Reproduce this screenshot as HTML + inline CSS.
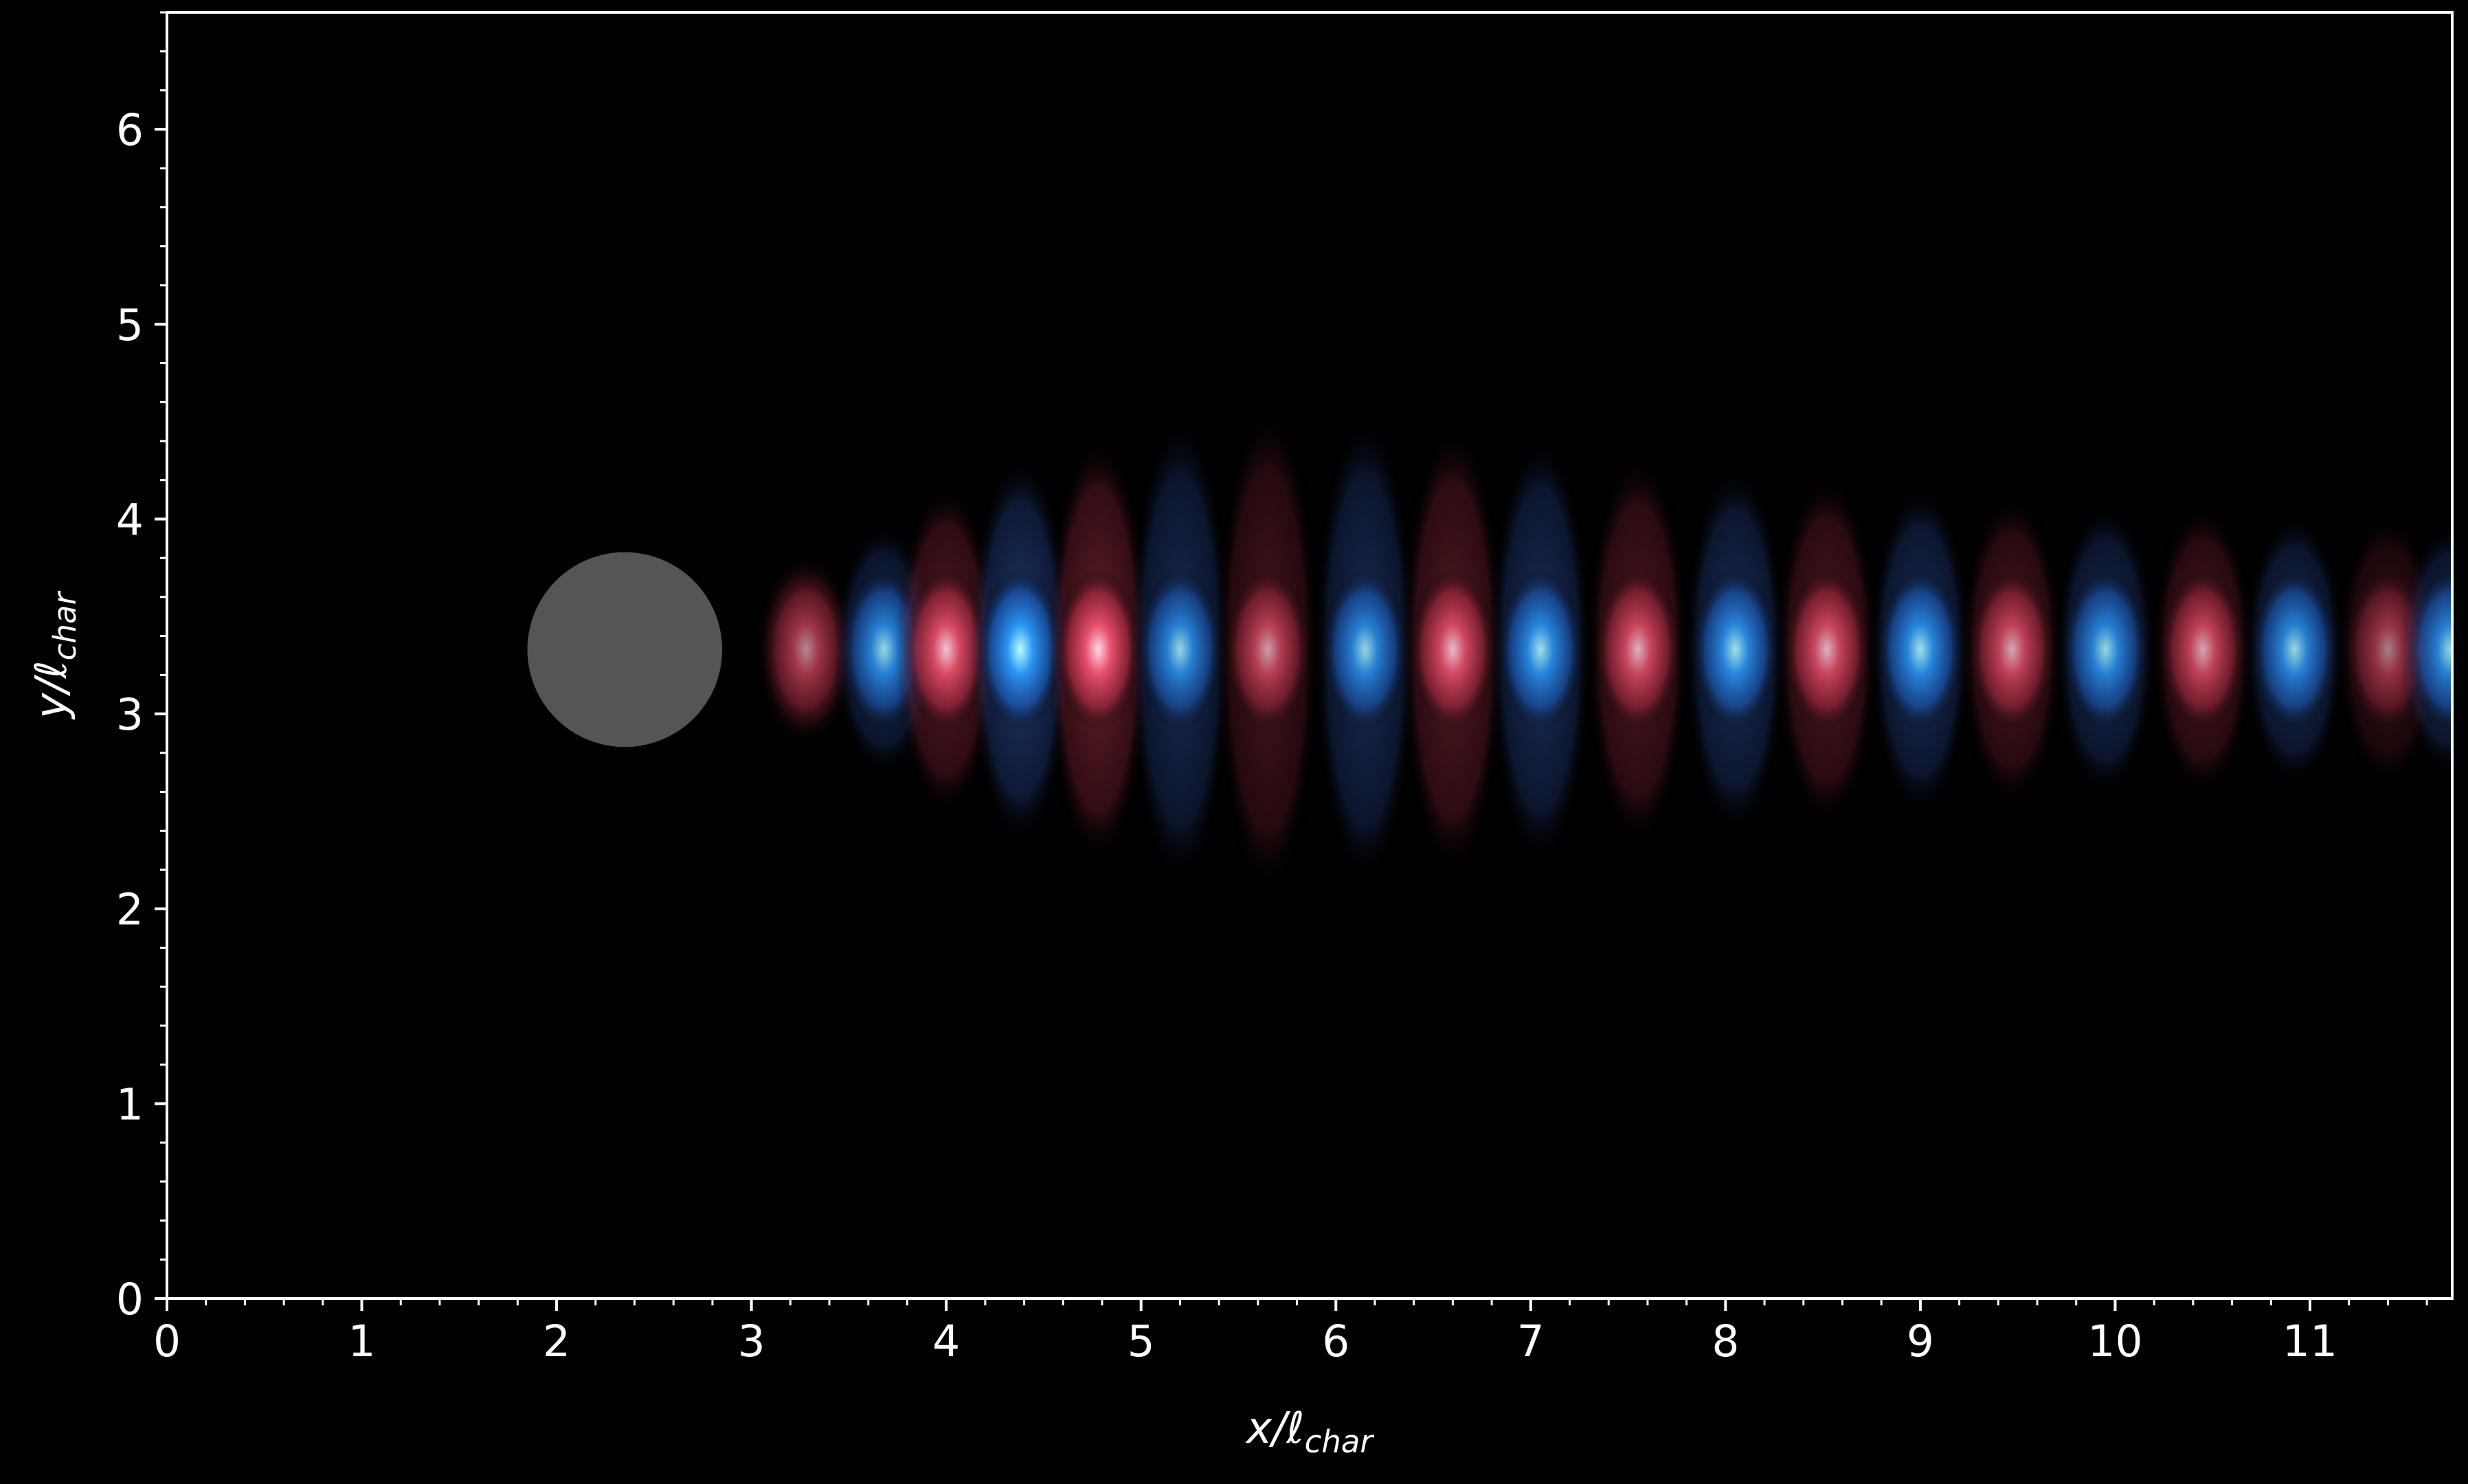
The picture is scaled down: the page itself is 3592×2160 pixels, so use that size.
<!DOCTYPE html>
<html><head><meta charset="utf-8">
<style>
html,body{margin:0;padding:0;background:#000;}
svg{display:block;}
text{font-family:"DejaVu Sans","Liberation Sans",sans-serif;fill:#fff;}
</style></head>
<body>
<svg id="chart" width="3592" height="2160" viewBox="0 0 3592 2160" xmlns="http://www.w3.org/2000/svg">
<defs>
<radialGradient id="gr"><stop offset="0" stop-color="#ffd6e6"/><stop offset="0.3" stop-color="#e8506e"/><stop offset="0.7" stop-color="#a02840" stop-opacity="0.75"/><stop offset="1" stop-color="#000" stop-opacity="0"/></radialGradient>
<radialGradient id="gb"><stop offset="0" stop-color="#b8ffff"/><stop offset="0.3" stop-color="#2a96f4"/><stop offset="0.7" stop-color="#1a56b0" stop-opacity="0.75"/><stop offset="1" stop-color="#000" stop-opacity="0"/></radialGradient>
<radialGradient id="or"><stop offset="0" stop-color="#b03848"/><stop offset="0.75" stop-color="#7a2030" stop-opacity="0.7"/><stop offset="1" stop-color="#000" stop-opacity="0"/></radialGradient>
<radialGradient id="ob"><stop offset="0" stop-color="#3a68c0"/><stop offset="0.75" stop-color="#223c80" stop-opacity="0.7"/><stop offset="1" stop-color="#000" stop-opacity="0"/></radialGradient>
<clipPath id="clip"><rect x="243" y="18" width="3326" height="1872"/></clipPath>
</defs>
<g id="field" clip-path="url(#clip)"></g>
<g id="axes"></g>
</svg>
<script>
const lobeX=[3.28,3.68,4.0,4.38,4.78,5.2,5.65,6.15,6.6,7.05,7.55,8.05,8.52,9.0,9.47,9.95,10.45,10.92,11.4,11.72];
const lobeSign=[1,-1,1,-1,1,-1,1,-1,1,-1,1,-1,1,-1,1,-1,1,-1,1,-1];
const lobeAmp=[0.6,0.8,0.9,1.0,1.0,0.8,0.7,0.8,0.85,0.85,0.8,0.85,0.8,0.85,0.75,0.8,0.75,0.8,0.55,0.8];
const lobeSpread=[0.5,0.65,0.85,1.0,1.1,1.2,1.25,1.2,1.15,1.1,1.0,0.95,0.9,0.85,0.8,0.75,0.75,0.7,0.7,0.65];
const xTicks=[0,1,2,3,4,5,6,7,8,9,10,11];
const yTicks=[0,1,2,3,4,5,6];
const cylinder={x:2.35,y:3.33,r:0.5};
const L=243,R=3569,T=18,B=1890,XMAX=11.73,YMAX=6.6;
const sx=v=>L+v*(R-L)/XMAX, sy=v=>B-v*(B-T)/YMAX, su=v=>v*(R-L)/XMAX;
const NS="http://www.w3.org/2000/svg";
function mk(t,a,p){const e=document.createElementNS(NS,t);for(const k in a)e.setAttribute(k,a[k]);p.appendChild(e);return e;}
const field=document.getElementById('field');
mk('rect',{x:L,y:T,width:R-L,height:B-T,fill:'#000'},field);
const yc=3.33;
lobeX.forEach((x,i)=>{
  const red=lobeSign[i]>0;
  const o=mk('ellipse',{cx:sx(x),cy:sy(yc),rx:su(0.26),ry:su(lobeSpread[i]),fill:red?'url(#or)':'url(#ob)',opacity:lobeAmp[i]*0.6},field);
  
  
  const c=mk('ellipse',{cx:sx(x),cy:sy(yc),rx:su(0.22),ry:su(0.42),fill:red?'url(#gr)':'url(#gb)',opacity:lobeAmp[i]},field);
  
  
});
const cyl=mk('circle',{cx:sx(cylinder.x),cy:sy(cylinder.y),r:su(cylinder.r),fill:'#555555'},field);


const ax=document.getElementById('axes');
const fr=mk('rect',{x:L,y:T,width:R-L,height:B-T,fill:'none',stroke:'#fff','stroke-width':4},ax);


for(let v=0;v<=XMAX+1e-9;v+=0.2){const maj=Math.abs(v-Math.round(v))<1e-6;mk('line',{x1:sx(v),x2:sx(v),y1:B,y2:B+(maj?18:10),stroke:'#fff','stroke-width':maj?4:3},ax);}
for(let v=0;v<=YMAX+1e-9;v+=0.2){const maj=Math.abs(v-Math.round(v))<1e-6;mk('line',{y1:sy(v),y2:sy(v),x1:L,x2:L-(maj?18:10),stroke:'#fff','stroke-width':maj?4:3},ax);}
xTicks.forEach(v=>{const t=mk('text',{x:sx(v),y:B+84,'font-size':63,'text-anchor':'middle'},ax);t.textContent=v;
 });
yTicks.forEach(v=>{const t=mk('text',{x:L-34,y:sy(v)+23,'font-size':63,'text-anchor':'end'},ax);t.textContent=v;
 });
const xl=mk('text',{x:(L+R)/2,y:2100,'font-size':63,'text-anchor':'middle','font-style':'italic'},ax);
xl.innerHTML='x/ℓ<tspan font-size="45" dy="14">char</tspan>';

const yl=mk('text',{x:0,y:0,'font-size':63,'text-anchor':'middle','font-style':'italic',transform:'translate(96,'+sy(3.3)+') rotate(-90)'},ax);
yl.innerHTML='y/ℓ<tspan font-size="45" dy="14">char</tspan>';

</script>
</body></html>
